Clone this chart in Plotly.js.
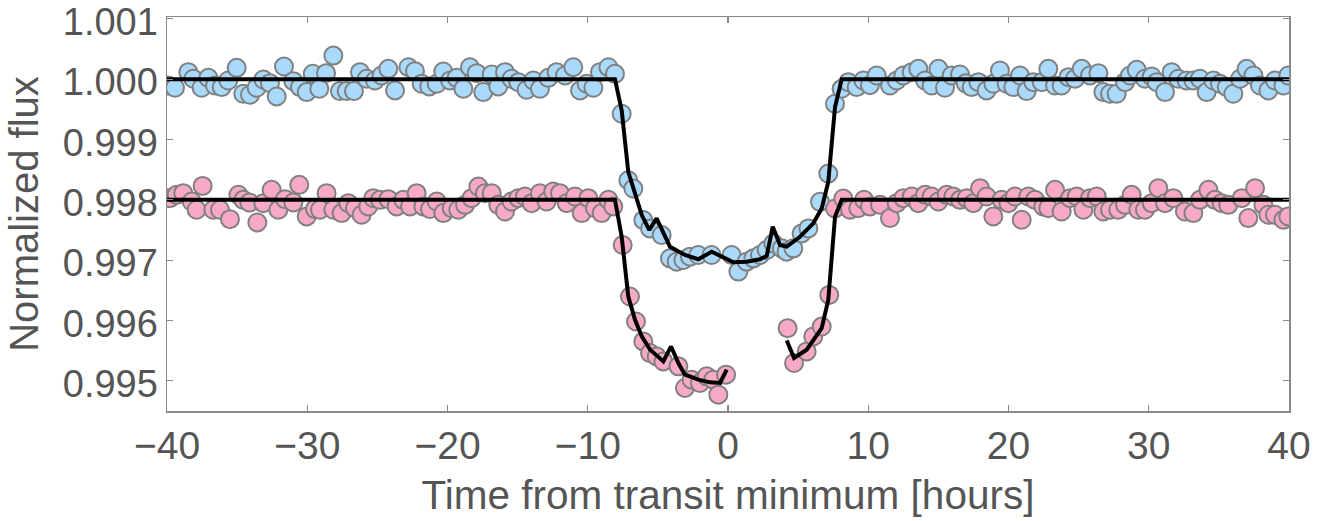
<!DOCTYPE html>
<html>
<head>
<meta charset="utf-8">
<script src="https://cdn.plot.ly/plotly-3.0.1.min.js"></script>
<style>html,body{margin:0;padding:0;background:#fff}#chart{width:1330px;height:521px}</style>
</head>
<body>
<div id="chart"></div>
<script>
// Quarter A light curve (blue) – time [h] and normalized flux
const blueTime = [-39.91,-39.43,-38.48,-38.12,-37.53,-37.05,-36.58,-36.10,-35.63,-35.03,-34.56,-34.08,-33.61,-33.13,-32.66,-32.18,-31.66,-30.99,-30.52,-30.04,-29.61,-29.14,-28.66,-28.14,-27.67,-27.19,-26.67,-26.24,-25.76,-25.17,-24.70,-24.22,-23.74,-22.79,-22.32,-21.84,-21.30,-20.77,-20.30,-19.82,-19.35,-18.87,-18.40,-17.92,-17.45,-16.85,-16.38,-15.90,-15.43,-14.95,-14.36,-13.88,-13.41,-12.81,-12.22,-11.62,-11.03,-10.55,-10.08,-9.60,-9.13,-8.53,-8.06,
  -7.58,-7.11,-6.75,-6.04,-5.56,-4.73,-4.14,-3.66,-3.18,-2.71,-2.12,-1.17,0.26,0.74,1.33,1.81,2.28,2.76,3.23,3.83,4.18,4.66,5.25,5.73,6.56,7.15,7.63,
  8.10,8.58,9.17,9.65,10.12,10.60,11.55,12.03,12.50,13.10,13.57,14.05,14.52,15.00,15.47,15.95,16.54,16.95,17.37,17.85,18.44,18.92,19.39,19.87,20.34,20.82,21.30,21.77,22.37,22.84,23.32,23.79,24.27,24.74,25.22,25.81,26.41,26.76,27.24,27.71,28.31,28.66,29.14,29.73,30.21,30.57,31.16,31.63,32.11,32.70,33.18,33.65,34.13,34.61,35.08,35.56,36.03,36.51,36.98,37.46,37.93,38.53,39.00,39.60,39.95];
const blueFlux = [0.999895,0.999857,1.000116,1.000006,0.999857,1.000022,0.999895,0.999868,0.999978,1.000187,0.999758,0.999741,0.999857,0.999994,0.999934,0.999713,1.000209,0.999967,0.999868,0.999785,1.000088,0.999840,1.000099,1.000391,0.999802,0.999802,0.999802,1.000116,1.000006,0.999978,1.000061,1.000171,0.999813,1.000198,1.000132,0.999923,0.999879,0.999923,1.000127,0.999978,1.000022,0.999840,1.000198,1.000099,0.999785,1.000077,0.999879,1.000116,1.000006,0.999950,0.999824,0.999978,0.999840,1.000022,1.000116,1.000061,1.000198,0.999813,0.999923,0.999857,1.000116,1.000198,1.000088,
  0.999427,0.998325,0.998187,0.997664,0.997526,0.997416,0.997030,0.996975,0.997003,0.997058,0.997085,0.997085,0.997085,0.996810,0.996975,0.997030,0.997085,0.997168,0.997278,0.997196,0.997141,0.997196,0.997443,0.997526,0.997967,0.998435,0.999592,
  0.999840,0.999950,0.999868,0.999978,0.999900,1.000061,0.999895,0.999978,1.000061,1.000116,1.000171,0.999978,0.999895,1.000171,0.999857,1.000061,1.000077,0.999930,0.999868,0.999950,0.999813,0.999923,1.000143,0.999923,0.999868,1.000061,0.999802,0.999950,0.999950,1.000171,0.999895,0.999895,1.000033,1.000006,1.000171,1.000061,1.000099,0.999785,0.999758,0.999758,0.999950,1.000061,1.000154,1.000006,1.000044,0.999950,0.999785,1.000116,1.000006,0.999978,0.999978,1.000006,0.999785,0.999978,0.999923,0.999868,0.999758,1.000006,1.000171,1.000061,0.999895,0.999813,0.999978,0.999895,1.000061];

// Quarter B light curve (pink), offset by -0.002
const pinkTime = [-39.79,-39.31,-38.84,-38.24,-37.89,-37.46,-36.70,-36.22,-35.51,-34.91,-34.56,-34.13,-33.56,-33.13,-32.54,-32.06,-31.59,-30.99,-30.57,-30.04,-29.45,-29.09,-28.62,-28.14,-27.55,-27.07,-26.60,-26.12,-25.65,-25.29,-24.81,-24.22,-23.63,-23.15,-22.67,-22.20,-21.72,-21.25,-20.77,-20.30,-19.70,-19.23,-18.75,-18.28,-17.80,-17.33,-16.85,-16.38,-15.90,-15.43,-14.95,-14.48,-14.00,-13.41,-12.93,-12.46,-11.98,-11.50,-10.91,-10.43,-9.96,-9.48,-9.01,-8.53,-8.18,
  -7.51,-6.99,-6.56,-6.04,-5.56,-5.09,-4.61,-3.54,-3.07,-2.59,-2.00,-1.52,-1.05,-0.69,-0.14,
  4.25,4.71,5.61,6.08,6.68,7.22,7.63,
  8.22,8.70,9.29,9.70,10.12,10.84,11.55,12.03,12.50,13.10,13.57,14.05,14.52,15.00,15.59,16.07,16.54,17.02,17.49,17.97,18.44,18.92,19.51,19.99,20.46,20.94,21.41,21.89,22.48,22.84,23.32,23.79,24.39,24.86,25.34,25.81,26.29,26.76,27.24,27.83,28.31,28.78,29.26,29.73,30.21,30.68,31.16,31.75,32.58,33.18,33.65,34.25,34.72,35.20,35.67,36.63,37.10,37.58,38.17,38.53,39.00,39.60,39.95];
const pinkFlux = [0.998028,0.998083,0.998110,0.997972,0.997835,0.998231,0.997835,0.997835,0.997680,0.998083,0.998000,0.997956,0.997625,0.997945,0.998165,0.997835,0.998011,0.997956,0.998248,0.997725,0.997846,0.997835,0.998110,0.997835,0.997780,0.997945,0.997862,0.997752,0.997890,0.998028,0.998000,0.998011,0.997890,0.998000,0.997890,0.998110,0.997890,0.997846,0.997972,0.997780,0.997862,0.997835,0.997917,0.998028,0.998220,0.998110,0.998110,0.997917,0.997807,0.997972,0.998028,0.998055,0.997945,0.998110,0.997972,0.998138,0.998110,0.997945,0.998055,0.997780,0.998028,0.997862,0.997780,0.998000,0.997890,
  0.997251,0.996397,0.995983,0.995653,0.995460,0.995405,0.995322,0.995240,0.994882,0.995019,0.994964,0.995074,0.995019,0.994771,0.995102,
  0.995873,0.995295,0.995488,0.995736,0.995901,0.996424,0.997857,
  0.998022,0.997835,0.997862,0.998000,0.997890,0.997917,0.997697,0.997945,0.998028,0.998055,0.997945,0.998083,0.998055,0.997972,0.998083,0.998055,0.998000,0.998028,0.997945,0.998193,0.998055,0.997725,0.998000,0.997945,0.998055,0.997669,0.998055,0.998000,0.997890,0.997862,0.998165,0.997807,0.998028,0.998055,0.997835,0.998028,0.998055,0.997807,0.997835,0.997835,0.997917,0.998083,0.997835,0.997835,0.997945,0.998193,0.997945,0.998028,0.997807,0.997780,0.998000,0.998165,0.998000,0.997945,0.997917,0.998028,0.997697,0.998193,0.997917,0.997752,0.997752,0.997669,0.997725];

// Transit models sampled at the data cadence
const blueModelTime = [-40,-8.06,-7.58,-7.11,-6.15,-5.61,-5.09,-4.61,-4.14,-3.07,-2.12,-1.16,-0.21,0.38,1.33,2.28,2.76,3.19,3.71,4.19,5.13,6.08,6.68,7.15,7.63,8.11,40];
const blueModelFlux = [1.0,1.0,0.999483,0.998463,0.997747,0.997499,0.997692,0.997444,0.997223,0.997086,0.997015,0.997140,0.997031,0.996965,0.996975,0.997015,0.997069,0.997554,0.997251,0.997223,0.997388,0.997610,0.997858,0.998298,0.999537,1.0,1.0];

const pinkModelTime = [-40,-8.06,-7.58,-7.11,-6.63,-6.15,-5.55,-4.61,-4.06,-3.54,-3.07,-2.12,-1.28,-0.57,-0.09,null,4.19,4.71,5.61,6.68,7.15,7.63,8.11,40];
const pinkModelFlux = [0.998,0.998,0.997388,0.996397,0.996012,0.995736,0.995516,0.995322,0.995570,0.995295,0.995102,0.995020,0.994975,0.994965,0.995185,null,0.995669,0.995378,0.995516,0.995874,0.996342,0.997719,0.998,0.998];

const yTickVals = [0.995,0.996,0.997,0.998,0.999,1.000,1.001];
const yTickText = ['0.995','0.996','0.997','0.998','0.999','1.000','1.001'];
const xTickVals = [-40,-30,-20,-10,0,10,20,30,40];

const FONT = 'Liberation Sans, Arial, sans-serif';
const markerStyle = (fill) => ({size: 18, color: fill, line: {color: '#808080', width: 2}});

const traces = [
  {x: blueTime, y: blueFlux, type: 'scatter', mode: 'markers', marker: markerStyle('#a9dafc'), hoverinfo: 'skip'},
  {x: pinkTime, y: pinkFlux, type: 'scatter', mode: 'markers', marker: markerStyle('#f8a9c8'), hoverinfo: 'skip'},
  {x: blueModelTime, y: blueModelFlux, type: 'scatter', mode: 'lines', line: {color: '#000', width: 4}, hoverinfo: 'skip'},
  {x: pinkModelTime, y: pinkModelFlux, type: 'scatter', mode: 'lines', connectgaps: false, line: {color: '#000', width: 4}, hoverinfo: 'skip'}
];

const axisCommon = {
  showgrid: false, zeroline: false, showline: true, linecolor: '#8a8a8a', linewidth: 1.5,
  mirror: 'ticks', ticks: 'inside', ticklen: 6, tickwidth: 1.2, tickcolor: '#8a8a8a',
  ticklabeloverflow: 'allow'
};

const layout = {
  width: 1330, height: 521,
  margin: {l: 167, r: 41, t: 17, b: 110},
  paper_bgcolor: '#fff', plot_bgcolor: '#fff',
  showlegend: false,
  xaxis: Object.assign({}, axisCommon, {
    range: [-40, 40], tickvals: xTickVals,
    tickfont: {family: FONT, size: 39, color: '#555'},
    title: {text: 'Time from transit minimum [hours]', standoff: 14,
            font: {family: FONT, size: 40.5, color: '#555'}}
  }),
  yaxis: Object.assign({}, axisCommon, {
    range: [0.99450, 1.00103], tickvals: yTickVals, ticktext: yTickText,
    ticklabelshift: 3,
    tickfont: {family: FONT, size: 38, color: '#555'},
    title: {text: 'Normalized flux', standoff: 12,
            font: {family: FONT, size: 40, color: '#555'}}
  })
};

Plotly.newPlot('chart', traces, layout, {staticPlot: true, displayModeBar: false});
</script>
</body>
</html>
